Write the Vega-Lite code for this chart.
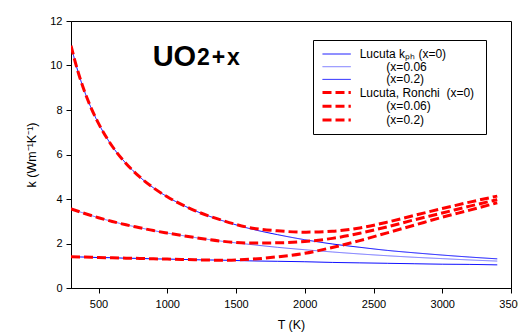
{
  "$schema": "https://vega.github.io/schema/vega-lite/v6.json",
  "width": 440,
  "height": 267,
  "autosize": {"type": "none"},
  "padding": {"left": 71, "top": 21, "right": 7, "bottom": 47},
  "background": "white",
  "config": {
    "font": "Liberation Sans",
    "view": {"stroke": "black", "strokeWidth": 1},
    "axis": {
      "domainColor": "black",
      "tickColor": "black",
      "labelColor": "black",
      "titleColor": "black",
      "labelFont": "Liberation Sans",
      "titleFont": "Liberation Sans",
      "labelFontSize": 11,
      "titleFontSize": 12.5,
      "titleFontWeight": "normal",
      "tickSize": 5,
      "grid": false
    }
  },
  "datasets": {
    "curves": [
      {"s": "s1", "T": 300, "k": 10.89}, {"s": "s1", "T": 350, "k": 9.74}, {"s": "s1", "T": 400, "k": 8.81}, {"s": "s1", "T": 450, "k": 8.04}, {"s": "s1", "T": 500, "k": 7.40}, {"s": "s1", "T": 600, "k": 6.37}, {"s": "s1", "T": 700, "k": 5.60}, {"s": "s1", "T": 800, "k": 4.99}, {"s": "s1", "T": 900, "k": 4.50}, {"s": "s1", "T": 1000, "k": 4.10}, {"s": "s1", "T": 1200, "k": 3.48}, {"s": "s1", "T": 1400, "k": 3.03}, {"s": "s1", "T": 1600, "k": 2.67}, {"s": "s1", "T": 1800, "k": 2.40}, {"s": "s1", "T": 2000, "k": 2.17}, {"s": "s1", "T": 2200, "k": 1.98}, {"s": "s1", "T": 2400, "k": 1.83}, {"s": "s1", "T": 2600, "k": 1.69}, {"s": "s1", "T": 2800, "k": 1.58}, {"s": "s1", "T": 3000, "k": 1.48}, {"s": "s1", "T": 3200, "k": 1.39}, {"s": "s1", "T": 3400, "k": 1.31},
      {"s": "s2", "T": 300, "k": 3.56}, {"s": "s2", "T": 400, "k": 3.35}, {"s": "s2", "T": 500, "k": 3.16}, {"s": "s2", "T": 600, "k": 2.99}, {"s": "s2", "T": 700, "k": 2.84}, {"s": "s2", "T": 800, "k": 2.71}, {"s": "s2", "T": 900, "k": 2.58}, {"s": "s2", "T": 1000, "k": 2.47}, {"s": "s2", "T": 1200, "k": 2.27}, {"s": "s2", "T": 1400, "k": 2.10}, {"s": "s2", "T": 1600, "k": 1.96}, {"s": "s2", "T": 1800, "k": 1.83}, {"s": "s2", "T": 2000, "k": 1.72}, {"s": "s2", "T": 2200, "k": 1.62}, {"s": "s2", "T": 2400, "k": 1.53}, {"s": "s2", "T": 2600, "k": 1.45}, {"s": "s2", "T": 2800, "k": 1.38}, {"s": "s2", "T": 3000, "k": 1.32}, {"s": "s2", "T": 3200, "k": 1.26}, {"s": "s2", "T": 3400, "k": 1.21},
      {"s": "s3", "T": 300, "k": 1.40}, {"s": "s3", "T": 400, "k": 1.39}, {"s": "s3", "T": 500, "k": 1.37}, {"s": "s3", "T": 600, "k": 1.36}, {"s": "s3", "T": 700, "k": 1.34}, {"s": "s3", "T": 800, "k": 1.33}, {"s": "s3", "T": 900, "k": 1.31}, {"s": "s3", "T": 1000, "k": 1.30}, {"s": "s3", "T": 1200, "k": 1.27}, {"s": "s3", "T": 1400, "k": 1.25}, {"s": "s3", "T": 1600, "k": 1.22}, {"s": "s3", "T": 1800, "k": 1.20}, {"s": "s3", "T": 2000, "k": 1.18}, {"s": "s3", "T": 2200, "k": 1.15}, {"s": "s3", "T": 2400, "k": 1.13}, {"s": "s3", "T": 2600, "k": 1.11}, {"s": "s3", "T": 2800, "k": 1.09}, {"s": "s3", "T": 3000, "k": 1.07}, {"s": "s3", "T": 3200, "k": 1.06}, {"s": "s3", "T": 3400, "k": 1.04},
      {"s": "s4", "T": 300, "k": 10.89}, {"s": "s4", "T": 350, "k": 9.74}, {"s": "s4", "T": 400, "k": 8.81}, {"s": "s4", "T": 450, "k": 8.04}, {"s": "s4", "T": 500, "k": 7.40}, {"s": "s4", "T": 600, "k": 6.37}, {"s": "s4", "T": 700, "k": 5.60}, {"s": "s4", "T": 800, "k": 4.99}, {"s": "s4", "T": 900, "k": 4.50}, {"s": "s4", "T": 1000, "k": 4.10}, {"s": "s4", "T": 1200, "k": 3.48}, {"s": "s4", "T": 1400, "k": 3.04}, {"s": "s4", "T": 1600, "k": 2.71}, {"s": "s4", "T": 1800, "k": 2.57}, {"s": "s4", "T": 2000, "k": 2.51}, {"s": "s4", "T": 2200, "k": 2.55}, {"s": "s4", "T": 2400, "k": 2.70}, {"s": "s4", "T": 2600, "k": 2.96}, {"s": "s4", "T": 2800, "k": 3.27}, {"s": "s4", "T": 3000, "k": 3.57}, {"s": "s4", "T": 3200, "k": 3.86}, {"s": "s4", "T": 3400, "k": 4.13},
      {"s": "s5", "T": 300, "k": 3.56}, {"s": "s5", "T": 400, "k": 3.35}, {"s": "s5", "T": 500, "k": 3.16}, {"s": "s5", "T": 600, "k": 2.99}, {"s": "s5", "T": 700, "k": 2.84}, {"s": "s5", "T": 800, "k": 2.71}, {"s": "s5", "T": 900, "k": 2.58}, {"s": "s5", "T": 1000, "k": 2.47}, {"s": "s5", "T": 1200, "k": 2.27}, {"s": "s5", "T": 1400, "k": 2.10}, {"s": "s5", "T": 1600, "k": 2.02}, {"s": "s5", "T": 1800, "k": 2.03}, {"s": "s5", "T": 2000, "k": 2.09}, {"s": "s5", "T": 2200, "k": 2.23}, {"s": "s5", "T": 2400, "k": 2.46}, {"s": "s5", "T": 2600, "k": 2.75}, {"s": "s5", "T": 2800, "k": 3.07}, {"s": "s5", "T": 3000, "k": 3.37}, {"s": "s5", "T": 3200, "k": 3.68}, {"s": "s5", "T": 3400, "k": 3.97},
      {"s": "s6", "T": 300, "k": 1.40}, {"s": "s6", "T": 400, "k": 1.39}, {"s": "s6", "T": 500, "k": 1.37}, {"s": "s6", "T": 600, "k": 1.36}, {"s": "s6", "T": 700, "k": 1.34}, {"s": "s6", "T": 800, "k": 1.33}, {"s": "s6", "T": 900, "k": 1.31}, {"s": "s6", "T": 1000, "k": 1.30}, {"s": "s6", "T": 1200, "k": 1.27}, {"s": "s6", "T": 1400, "k": 1.25}, {"s": "s6", "T": 1600, "k": 1.29}, {"s": "s6", "T": 1800, "k": 1.40}, {"s": "s6", "T": 2000, "k": 1.56}, {"s": "s6", "T": 2200, "k": 1.82}, {"s": "s6", "T": 2400, "k": 2.13}, {"s": "s6", "T": 2600, "k": 2.48}, {"s": "s6", "T": 2800, "k": 2.83}, {"s": "s6", "T": 3000, "k": 3.18}, {"s": "s6", "T": 3200, "k": 3.50}, {"s": "s6", "T": 3400, "k": 3.83}
    ]
  },
  "layer": [
    {
      "data": {"name": "curves"},
      "mark": {"type": "line", "interpolate": "monotone", "clip": true},
      "encoding": {
        "x": {
          "field": "T", "type": "quantitative",
          "scale": {"domain": [300, 3500], "nice": false, "zero": false},
          "axis": {"title": "T (K)", "format": "d", "values": [500, 1000, 1500, 2000, 2500, 3000, 3500], "labelFlush": false, "labelPadding": 5, "titlePadding": 9}
        },
        "y": {
          "field": "k", "type": "quantitative",
          "scale": {"domain": [0, 12], "nice": false},
          "axis": {"title": "k (Wm⁻¹K⁻¹)", "values": [0, 2, 4, 6, 8, 10, 12], "labelFlush": false, "labelPadding": 4, "titlePadding": 11}
        },
        "color": {
          "field": "s", "type": "ordinal",
          "scale": {"domain": ["s1", "s2", "s3", "s4", "s5", "s6"], "range": ["#0000ff", "#6a6aff", "#0000ff", "#ff0000", "#ff0000", "#ff0000"]},
          "legend": {
            "title": null,
            "orient": "none",
            "legendX": 242,
            "legendY": 19,
            "padding": 8,
            "strokeColor": "black",
            "fillColor": "white",
            "symbolType": "M-1,0H4.66",
            "symbolSize": 100,
            "labelFont": "Liberation Sans",
            "labelFontSize": 12,
            "labelColor": "black",
            "labelOffset": 25.7,
            "rowPadding": 0.7,
            "labelLimit": 300,
            "labelExpr": "datum.value == 's1' ? 'Lucuta kₚₕ (x=0)' : datum.value == 's2' ? '\u200b\u00a0\u00a0\u00a0\u00a0\u00a0\u00a0\u00a0\u00a0(x=0.06' : datum.value == 's3' ? '\u200b\u00a0\u00a0\u00a0\u00a0\u00a0\u00a0\u00a0\u00a0(x=0.2)' : datum.value == 's4' ? 'Lucuta, Ronchi\u00a0\u00a0(x=0)\u00a0\u200b' : datum.value == 's5' ? '\u200b\u00a0\u00a0\u00a0\u00a0\u00a0\u00a0\u00a0\u00a0(x=0.06)' : '\u200b\u00a0\u00a0\u00a0\u00a0\u00a0\u00a0\u00a0\u00a0(x=0.2)'"
          }
        },
        "strokeDash": {
          "field": "s", "type": "ordinal",
          "scale": {"domain": ["s1", "s2", "s3", "s4", "s5", "s6"], "range": [[1, 0], [1, 0], [1, 0], [9, 4], [9, 4], [9, 4]]}
        },
        "strokeWidth": {
          "field": "s", "type": "ordinal",
          "scale": {"type": "ordinal", "domain": ["s1", "s2", "s3", "s4", "s5", "s6"], "range": [1, 1, 1, 3, 3, 3]}
        }
      }
    },
    {
      "data": {"values": [{"label": "UO", "T": 1210, "k": 10.0}]},
      "mark": {"type": "text", "align": "right", "baseline": "alphabetic", "fontSize": 29, "fontWeight": "bold", "font": "Liberation Sans", "color": "black"},
      "encoding": {
        "x": {"field": "T", "type": "quantitative"},
        "y": {"field": "k", "type": "quantitative"},
        "text": {"field": "label"}
      }
    },
    {
      "data": {"values": [{"label": "2\u200a+\u200ax", "T": 1216, "k": 10.03}]},
      "mark": {"type": "text", "align": "left", "baseline": "alphabetic", "fontSize": 23, "fontWeight": "bold", "font": "Liberation Sans", "color": "black"},
      "encoding": {
        "x": {"field": "T", "type": "quantitative"},
        "y": {"field": "k", "type": "quantitative"},
        "text": {"field": "label"}
      }
    }
  ]
}
